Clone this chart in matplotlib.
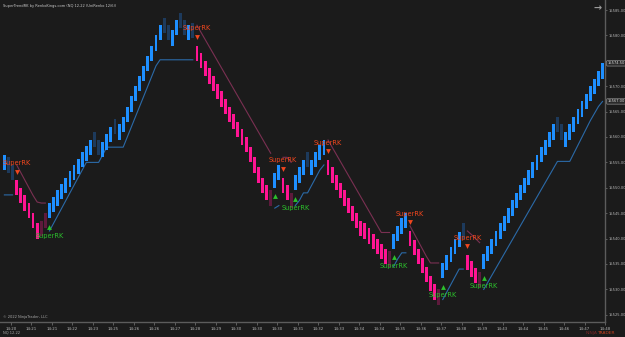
import numpy as np
import matplotlib.pyplot as plt

BG = '#1b1b1b'
UP_BRIGHT = '#1e8fff'
UP_DIM = '#1d3a5c'
DN_BRIGHT = '#ff1493'
DN_DIM = '#5e1a3c'
UP_LINE = '#2b6aa8'
DN_LINE = '#7a3052'
SELL_COL = '#f0461e'
BUY_COL = '#2cc02c'

# renko closes, one per bar
closes = [
    15556.5, 15553.0, 15551.5, 15548.5, 15547.0, 15545.5, 15544.0, 15542.0, 15540.0, 15543.5,
    15545.0, 15547.0, 15548.25, 15549.5, 15550.75, 15552.0, 15553.25, 15554.5, 15555.75, 15557.0,
    15558.25, 15559.5, 15558.0, 15556.5, 15559.0, 15560.5, 15562.0, 15560.5, 15562.5, 15564.0,
    15566.0, 15568.0, 15570.0, 15572.0, 15574.0, 15576.0, 15578.0, 15580.0, 15582.0, 15580.5,
    15579.0, 15581.0, 15583.0, 15581.5, 15580.0, 15582.0, 15579.5, 15575.0, 15573.5, 15572.0,
    15570.5, 15569.0, 15567.5, 15566.0, 15564.5, 15563.0, 15561.5, 15560.0, 15558.5, 15557.0,
    15555.0, 15553.0, 15551.0, 15549.0, 15547.5, 15549.5, 15553.0, 15554.5, 15549.0, 15547.5,
    15549.0, 15552.5, 15554.0, 15555.5, 15554.0, 15555.5, 15557.0, 15558.5, 15559.5, 15552.5,
    15551.0, 15549.5, 15548.0, 15546.5, 15545.0, 15543.5, 15542.0, 15540.5, 15540.0, 15539.0,
    15538.0, 15537.0, 15536.0, 15535.0, 15537.5, 15541.0, 15542.5, 15544.0, 15545.0, 15538.5,
    15536.7, 15535.0, 15533.2, 15531.5, 15529.7, 15528.0, 15530.0, 15535.2, 15536.8, 15538.4,
    15540.0, 15541.3, 15540.0, 15533.8, 15532.5, 15531.2, 15533.5, 15537.0, 15538.5, 15540.0,
    15541.5, 15543.0, 15544.5, 15546.0, 15547.5, 15549.0, 15550.5, 15552.0, 15553.5, 15555.0,
    15556.5, 15558.0, 15559.5, 15561.0, 15562.5, 15561.0, 15559.5, 15561.0, 15562.5, 15564.0,
    15565.5, 15567.0, 15568.5, 15570.0, 15571.5, 15573.0, 15574.5,
]
BRICK = 3.0

N = None
# SuperTrend line below price (uptrend)
st_up = [
    15548.6, 15548.6, 15548.6, N, N, N, N, N, N, N,
    N, 15541.5, 15543.0, 15544.5, 15546.0, 15547.5, 15549.0, 15550.5, 15552.0, 15553.5,
    15555.0, 15555.0, 15555.0, 15555.0, 15556.5, 15558.0, 15558.0, 15558.0, 15558.0, 15558.0,
    15560.0, 15562.0, 15564.0, 15566.0, 15568.0, 15570.0, 15572.0, 15574.0, 15575.2, 15575.2,
    15575.2, 15575.2, 15575.2, 15575.2, 15575.2, 15575.2, 15575.2, N, N, N,
    N, N, N, N, N, N, N, N, N, N,
    N, N, N, N, N, N, 15546.0, 15546.5, N, N,
    N, 15546.5, 15547.5, 15549.0, 15549.0, 15550.5, 15552.0, 15553.5, 15554.5, N,
    N, N, N, N, N, N, N, N, N, N,
    N, N, N, N, N, 15534.5, 15536.0, 15537.2, 15537.2, N,
    N, N, N, N, N, N, N, 15528.0, 15529.5, 15531.0,
    15532.5, 15534.0, 15534.0, N, N, N, N, 15530.0, 15531.4, 15532.8,
    15534.2, 15535.6, 15537.0, 15538.4, 15539.8, 15541.2, 15542.6, 15544.0, 15545.4, 15546.8,
    15548.2, 15549.6, 15551.0, 15552.4, 15553.8, 15555.2, 15555.2, 15555.2, 15555.2, 15556.8,
    15558.4, 15560.0, 15561.6, 15563.2, 15564.6, 15566.0, 15567.0,
]
# SuperTrend line above price (downtrend)
st_dn = [
    N, N, N, 15554.5, 15553.0, 15551.5, 15550.0, 15548.5, 15547.2, 15547.0,
    15547.0, N, N, N, N, N, N, N, N, N,
    N, N, N, N, N, N, N, N, N, N,
    N, N, N, N, N, N, N, N, N, N,
    N, N, N, N, N, N, N, 15582.0, 15580.6, 15579.2,
    15577.8, 15576.4, 15575.0, 15573.6, 15572.2, 15570.8, 15569.4, 15568.0, 15566.6, 15565.2,
    15563.8, 15562.4, 15561.0, 15559.6, 15558.2, 15556.8, N, N, 15556.0, 15556.0,
    15555.0, N, N, N, N, N, N, N, N, 15559.4,
    15558.0, 15556.6, 15555.2, 15553.8, 15552.4, 15551.0, 15549.6, 15548.2, 15546.8, 15545.4,
    15544.0, 15542.6, 15541.2, 15541.2, 15541.2, N, N, N, N, 15542.5,
    15541.0, 15539.5, 15538.0, 15536.5, 15535.2, 15535.2, 15535.2, N, N, N,
    N, N, N, 15541.5, 15540.8, 15540.0, 15539.2, N, N, N,
    N, N, N, N, N, N, N, N, N, N,
    N, N, N, N, N, N, N, N, N, N,
    N, N, N, N, N, N, N,
]

sell_bars = [3, 47, 68, 79, 99, 113]
buy_bars = [11, 66, 71, 95, 107, 117]
buy_labelled = [True, False, True, True, True, True]

price_ticks = [15525, 15530, 15535, 15540, 15545, 15550, 15555, 15560, 15565, 15570, 15575, 15580, 15585]
time_labels = ['14:20', '14:21', '14:21', '14:22', '14:23', '14:25', '14:26', '14:26', '14:27', '14:28',
               '14:29', '14:30', '14:30', '14:30', '14:31', '14:32', '14:33', '14:34', '14:34', '14:35',
               '14:36', '14:37', '14:38', '14:39', '14:43', '14:44', '14:45', '14:46', '14:47', '14:48']
last_price = 15574.50
last_stop = 15567.00


def bar_geometry(closes):
    c = np.array(closes)
    d = np.sign(np.diff(c, prepend=c[0] - 1))
    o = c - BRICK * d
    return c, o, d


def main():
    c, o, d = bar_geometry(closes)
    up = np.array([np.nan if v is None else v for v in st_up], dtype=float)
    dn = np.array([np.nan if v is None else v for v in st_dn], dtype=float)
    trend = np.where(~np.isnan(up), 1, -1)
    x = np.arange(len(c))

    fig = plt.figure(figsize=(6.25, 3.37), dpi=100, facecolor=BG)
    ax = fig.add_axes([0, 15 / 337, 605 / 625, 322 / 337], facecolor=BG)

    colors = []
    for di, ti in zip(d, trend):
        if ti > 0:
            colors.append(UP_BRIGHT if di > 0 else UP_DIM)
        else:
            colors.append(DN_BRIGHT if di < 0 else DN_DIM)
    lo = np.minimum(c, o)
    ax.bar(x, BRICK, bottom=lo, width=0.7, color=colors, linewidth=0, zorder=3)

    ax.plot(x, up, color=UP_LINE, lw=0.8, zorder=2)
    ax.plot(x, dn, color=DN_LINE, lw=0.8, zorder=2)

    hi = np.maximum(c, o)
    for b in sell_bars:
        ax.plot(b, hi[b] + 1.7, marker='v', ms=3.5, color=SELL_COL, mec='none', zorder=5)
        ax.text(b, hi[b] + 3.4, 'SuperRK', color=SELL_COL, fontsize=4.8,
                ha='center', va='center', zorder=5)
    for b, lab in zip(buy_bars, buy_labelled):
        ax.plot(b, lo[b] - 1.7, marker='^', ms=3.5, color=BUY_COL, mec='none', zorder=5)
        if lab:
            ax.text(b, lo[b] - 3.4, 'SuperRK', color=BUY_COL, fontsize=4.8,
                    ha='center', va='center', zorder=5)

    ax.set_xlim(-1.07, 146.5)
    ax.set_ylim(15523.58, 15586.97)

    for s in ['top', 'left']:
        ax.spines[s].set_visible(False)
    for s in ['right', 'bottom']:
        ax.spines[s].set_color('#5c5c5c')
        ax.spines[s].set_linewidth(1.0)

    # the last-price box hides the tick label it sits on
    ax.yaxis.tick_right()
    ax.set_yticks(price_ticks)
    ax.set_yticklabels(['' if abs(p - last_price) < 1 else '%.2f' % p for p in price_ticks])
    ax.tick_params(axis='y', colors='#6a6a6a', labelcolor='#b5b5b5', labelsize=2.6,
                   length=1.5, width=0.6, pad=1)

    xt = 1.6 + 5 * np.arange(len(time_labels))
    ax.set_xticks(xt)
    ax.set_xticklabels(time_labels)
    ax.tick_params(axis='x', colors='#6a6a6a', labelcolor='#b5b5b5', labelsize=2.8,
                   length=2, width=0.6, pad=1.5)

    # highlighted price markers on the axis
    tr = ax.get_yaxis_transform()
    for val in [last_price, last_stop]:
        ax.text(1.004, val, '%.2f' % val, transform=tr, fontsize=2.6, color='#d8d8d8',
                ha='left', va='center', clip_on=False,
                bbox=dict(boxstyle='round,pad=0.2', fc='#2a2a2a', ec='#8a8a8a', lw=0.5))

    fig.text(3 / 625, 1 - 6 / 337, 'SuperTrendRK by RenkoKings.com (NQ 12-22 (UniRenko 12/6))',
             color='#c8c8c8', fontsize=2.6, ha='left', va='center')
    fig.text(3 / 625, 1 - 317 / 337, '\u00a9 2022 NinjaTrader, LLC',
             color='#a8a8a8', fontsize=2.6, ha='left', va='center')
    fig.text(3 / 625, 1 - 333 / 337, 'NQ 12-22', color='#a8a8a8', fontsize=2.6,
             ha='left', va='center')
    fig.text(598 / 625, 1 - 8 / 337, '\u2192', color='#9a9a9a', fontsize=7,
             ha='center', va='center', fontweight='bold')
    fig.text(597 / 625, 1 - 333 / 337, 'NINJA', color='#7a2626', fontsize=3.2,
             ha='right', va='center')
    fig.text(597 / 625, 1 - 333 / 337, 'TRADER', color='#c8401e', fontsize=3.2,
             ha='left', va='center')

    fig.savefig('out.png', dpi=100, facecolor=BG)


if __name__ == '__main__':
    main()
